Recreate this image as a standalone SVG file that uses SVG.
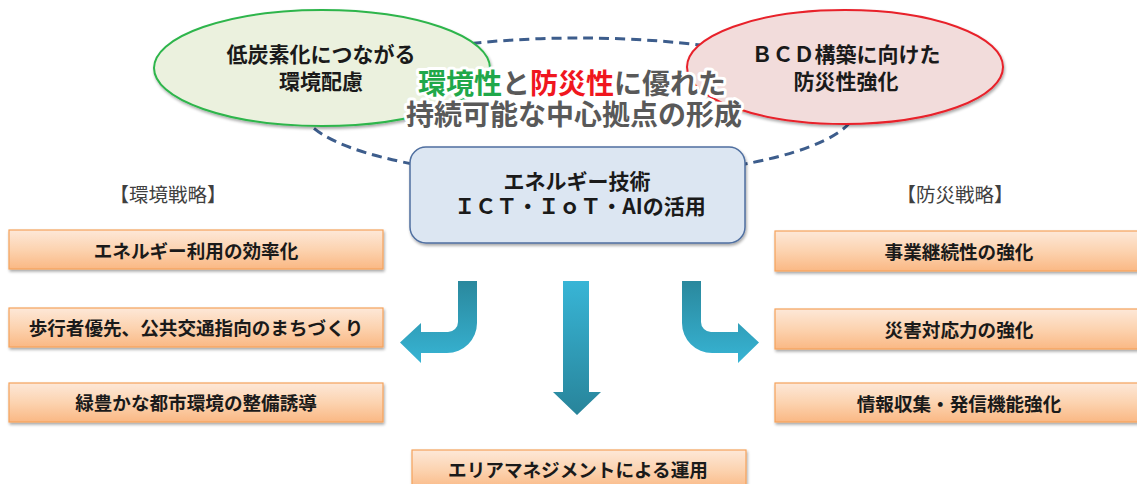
<svg xmlns="http://www.w3.org/2000/svg" width="1137" height="484" viewBox="0 0 1137 484">
  <defs>
    <style>
      text { font-family: "Noto Sans CJK JP", "Noto Sans", sans-serif; dominant-baseline: central; text-anchor: middle; }
      .b { font-weight: 700; fill: #1a1a1a; }
      .ell { font-size: 21px; }
      .box { font-size: 18.6px; }
      .lbl { font-size: 19.5px; fill: #404040; font-weight: 400; }
      .title { font-size: 28px; font-weight: 700; fill: #595959; stroke: #ffffff; stroke-width: 6; stroke-linejoin: round; paint-order: stroke; }
      .org { fill: url(#orangeGrad); stroke: #f5a25c; stroke-width: 1.2; filter: url(#shadow); }
    </style>
    <linearGradient id="orangeGrad" x1="0" y1="0" x2="0" y2="1">
      <stop offset="0" stop-color="#fde8d8"/>
      <stop offset="0.5" stop-color="#fcd3b0"/>
      <stop offset="1" stop-color="#fab884"/>
    </linearGradient>
    <linearGradient id="bentGrad" gradientUnits="userSpaceOnUse" x1="0" y1="281" x2="0" y2="363">
      <stop offset="0" stop-color="#2a889d"/>
      <stop offset="1" stop-color="#37b4d4"/>
    </linearGradient>
    <linearGradient id="downGrad" gradientUnits="userSpaceOnUse" x1="0" y1="281" x2="0" y2="415">
      <stop offset="0" stop-color="#38b5d6"/>
      <stop offset="1" stop-color="#28849a"/>
    </linearGradient>
    <filter id="shadow" x="-10%" y="-20%" width="120%" height="160%">
      <feGaussianBlur in="SourceAlpha" stdDeviation="1.5"/>
      <feOffset dx="1" dy="2" result="o"/>
      <feComponentTransfer><feFuncA type="linear" slope="0.35"/></feComponentTransfer>
      <feMerge><feMergeNode/><feMergeNode in="SourceGraphic"/></feMerge>
    </filter>
  </defs>

  <rect width="1137" height="484" fill="#ffffff"/>

  <g id="connectors">
    <ellipse cx="579" cy="108" rx="277" ry="70" fill="none" stroke="#3d5d8c" stroke-width="3" stroke-dasharray="10 6"/>
    <path d="M477,281 L477,323 A30,30 0 0 1 447,353 L421,353 L421,363 L400,342.5 L421,323 L421,332 L448,332 A10,10 0 0 0 458,322 L458,281 Z" fill="url(#bentGrad)"/>
    <path d="M682,281 L682,323 A30,30 0 0 0 712,353 L738,353 L738,363 L759,342.5 L738,323 L738,332 L711,332 A10,10 0 0 1 701,322 L701,281 Z" fill="url(#bentGrad)"/>
    <path d="M563,281 L589,281 L589,392 L601,392 L577,415 L553,392 L563,392 Z" fill="url(#downGrad)"/>
  </g>

  <g id="node-env">
    <ellipse cx="322" cy="68" rx="168" ry="58" fill="#ebf1de" stroke="#2db54b" stroke-width="2" filter="url(#shadow)"/>
    <text class="b ell" x="321" y="53">低炭素化につながる</text>
    <text class="b ell" x="321" y="80">環境配慮</text>
  </g>

  <g id="node-bcd">
    <ellipse cx="845" cy="67" rx="158" ry="57" fill="#f2dcdb" stroke="#e8202a" stroke-width="2" filter="url(#shadow)"/>
    <text class="b ell" x="846" y="53">ＢＣＤ構築に向けた</text>
    <text class="b ell" x="846" y="80">防災性強化</text>
  </g>

  <g id="node-tech">
    <rect x="410" y="147" width="335" height="96" rx="16" ry="16" fill="#dce6f2" stroke="#4f6fa0" stroke-width="1.5" filter="url(#shadow)"/>
    <text class="b" style="font-size:21px" x="577" y="180">エネルギー技術</text>
    <text class="b" style="font-size:21px" x="580" y="205">ＩＣＴ・ＩｏＴ・AIの活用</text>
  </g>

  <g id="title">
    <text class="title"><tspan x="572" y="81.5"><tspan fill="#1fa84a">環境性</tspan>と<tspan fill="#f0161e">防災性</tspan>に優れた</tspan><tspan x="574" y="113">持続可能な中心拠点の形成</tspan></text>
  </g>

  <g id="label-env">
    <text class="lbl" x="168" y="193">【環境戦略】</text>
  </g>
  <g id="label-bousai">
    <text class="lbl" x="955" y="193">【防災戦略】</text>
  </g>

  <g id="env-1">
    <rect class="org" x="9" y="230" width="374" height="39"/>
    <text class="b box" x="196" y="249">エネルギー利用の効率化</text>
  </g>
  <g id="env-2">
    <rect class="org" x="9" y="308" width="374" height="39"/>
    <text class="b box" x="196" y="326">歩行者優先、公共交通指向のまちづくり</text>
  </g>
  <g id="env-3">
    <rect class="org" x="9" y="383" width="374" height="39"/>
    <text class="b box" x="196" y="401">緑豊かな都市環境の整備誘導</text>
  </g>

  <g id="bousai-1">
    <rect class="org" x="775" y="231" width="368" height="40"/>
    <text class="b box" x="959" y="250">事業継続性の強化</text>
  </g>
  <g id="bousai-2">
    <rect class="org" x="775" y="309" width="368" height="40"/>
    <text class="b box" x="959" y="328">災害対応力の強化</text>
  </g>
  <g id="bousai-3">
    <rect class="org" x="775" y="383" width="368" height="39"/>
    <text class="b box" x="959" y="402">情報収集・発信機能強化</text>
  </g>

  <g id="area-mgmt">
    <rect class="org" x="412" y="450" width="334" height="40"/>
    <text class="b box" x="578" y="468">エリアマネジメントによる運用</text>
  </g>
</svg>
